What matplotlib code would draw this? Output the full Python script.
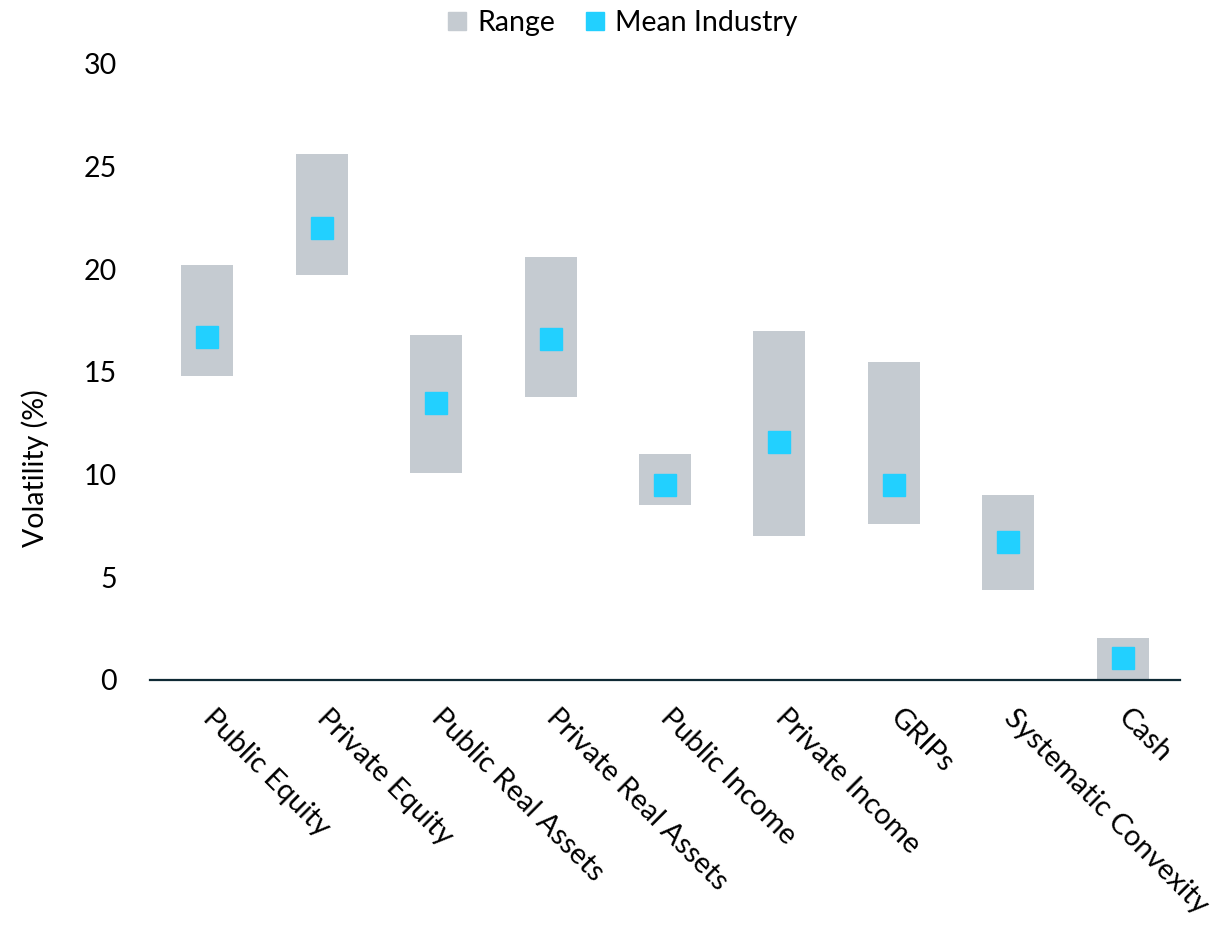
import matplotlib.pyplot as plt
from matplotlib.lines import Line2D

# Data
categories = ["Public Equity", "Private Equity", "Public Real Assets", "Private Real Assets",
              "Public Income", "Private Income", "GRIPs", "Systematic Convexity", "Cash"]
range_low = [14.8, 19.7, 10.1, 13.8, 8.5, 7.0, 7.6, 4.4, 0.0]
range_high = [20.2, 25.6, 16.8, 20.6, 11.0, 17.0, 15.5, 9.0, 2.05]
mean_industry = [16.7, 22.0, 13.5, 16.6, 9.5, 11.6, 9.5, 6.7, 1.07]

range_color = "#C5CBD1"
mean_color = "#22D0FF"
axis_color = "#0F2A35"

plt.rcParams['font.family'] = ['Lato', 'DejaVu Sans']

fig = plt.figure(figsize=(12.26, 9.31), dpi=100)
ax = fig.add_axes([150 / 1226, 251 / 931, 1030 / 1226, 616 / 931])

x = list(range(len(categories)))
heights = [h - l for l, h in zip(range_low, range_high)]
ax.bar(x, heights, bottom=range_low, width=0.455, color=range_color, zorder=2)
ax.plot(x, mean_industry, linestyle="none", marker="s", markersize=15.8,
        color=mean_color, zorder=3)

ax.set_xlim(-0.5, len(categories) - 0.5)
ax.set_ylim(0, 30)
ax.set_yticks([0, 5, 10, 15, 20, 25, 30])

for side in ["left", "right", "top"]:
    ax.spines[side].set_visible(False)
ax.spines["bottom"].set_color(axis_color)
ax.spines["bottom"].set_linewidth(1.6)
ax.spines["bottom"].set_zorder(4)

ax.tick_params(axis="y", length=0, pad=24, labelsize=20.5)
ax.tick_params(axis="x", length=0, pad=24, labelsize=21)
ax.set_xticks(x)
ax.set_xticklabels(categories, rotation=-45, ha="left", va="center", rotation_mode="anchor")

ax.set_ylabel("Volatility (%)", fontsize=20.5)
ax.yaxis.set_label_coords(-0.098, 0.344)

handles = [
    Line2D([], [], linestyle="none", marker="s", markersize=13, color=range_color),
    Line2D([], [], linestyle="none", marker="s", markersize=13, color=mean_color),
]
fig.legend(handles, ["Range", "Mean Industry"], loc="upper center",
           bbox_to_anchor=(0.507, 1.017), ncol=2, frameon=False, fontsize=20.5,
           handlelength=0.8, handletextpad=0.3, columnspacing=1.0)

fig.savefig("out.png", dpi=100)
